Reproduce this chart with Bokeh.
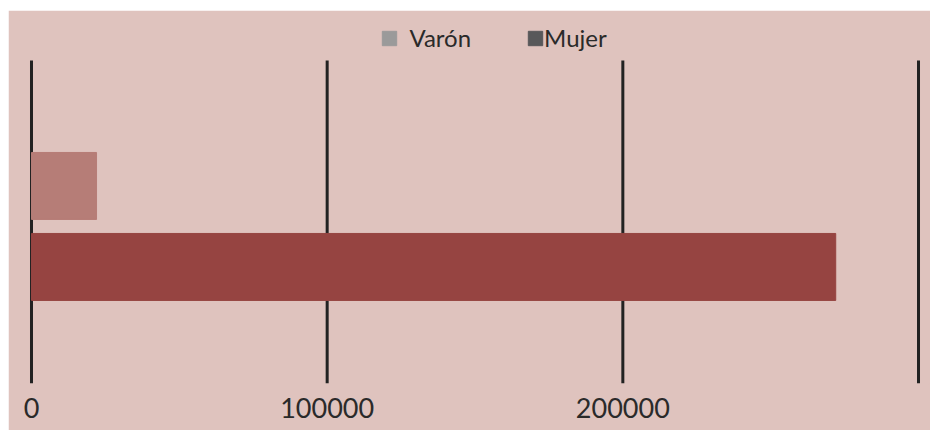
from bokeh.plotting import figure
from bokeh.models import Range1d, FixedTicker, Legend, LegendItem, ColumnDataSource, BasicTickFormatter
from bokeh.embed import file_html
from bokeh.resources import INLINE

categories = ["Varón", "Mujer"]
values = [22000, 272000]
bar_colors = ["#b67d77", "#964441"]
legend_colors = ["#9a9a9a", "#58585a"]
legend_labels = ["\u00a0\u00a0Varón", "Mujer"]
grid_ticks = [0, 100000, 200000, 300000]
label_ticks = [0, 100000, 200000]

BG = "#dfc3be"
FONT = "Lato"
Y_BOTTOM, Y_TOP = 2.439, -2.043   # frame extent in category units (flipped)
GRID_TOP = -1.549                 # where the vertical rules stop

p = figure(width=922, height=420, output_backend="svg", toolbar_location=None,
           x_range=Range1d(-3720, 303380), y_range=Range1d(Y_BOTTOM, Y_TOP),
           y_axis_location=None, min_border_left=12, min_border_right=2,
           min_border_top=10, min_border_bottom=47)
p.margin = (10, 0, 0, 8)
p.background_fill_color = BG
p.border_fill_color = BG
p.outline_line_color = BG
p.outline_line_width = 2
p.xgrid.visible = False
p.ygrid.visible = False

p.segment(x0=grid_ticks, x1=grid_ticks, y0=[Y_BOTTOM] * len(grid_ticks),
          y1=[GRID_TOP] * len(grid_ticks), line_color="#222222", line_width=3)

ys = list(range(len(categories)))
src = ColumnDataSource(dict(y=ys, v=values, c=bar_colors, cat=categories))
p.hbar(y="y", right="v", left=0, height=0.827, color="c", source=src)

ax = p.xaxis[0]
ax.ticker = FixedTicker(ticks=label_ticks)
ax.formatter = BasicTickFormatter(use_scientific=False)
ax.axis_line_color = None
ax.major_tick_line_color = None
ax.minor_tick_line_color = None
ax.major_label_text_font = FONT
ax.major_label_text_font_size = "27px"
ax.major_label_text_color = "#2a2a2a"
ax.major_label_standoff = 8

nan = float("nan")
items = []
for lab, col in zip(legend_labels, legend_colors):
    r = p.quad(left=[nan], right=[nan], top=[nan], bottom=[nan], color=col)
    items.append(LegendItem(label=lab, renderers=[r]))

legend = Legend(items=items, orientation="horizontal", location=(360, 331),
                glyph_width=18, glyph_height=18, label_standoff=0, spacing=55,
                padding=0, margin=0, border_line_color=None,
                background_fill_alpha=0, label_text_font=FONT,
                label_text_font_size="24px", label_text_color="#2a2a2a")
p.add_layout(legend, "center")

open("out.html", "w").write(file_html(p, INLINE))
